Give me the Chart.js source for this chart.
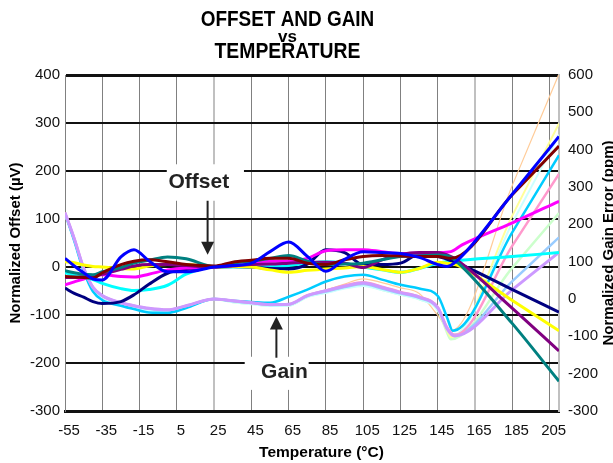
<!DOCTYPE html>
<html>
<head>
<meta charset="utf-8">
<script src="https://cdn.jsdelivr.net/npm/chart.js@4.4.1/dist/chart.umd.min.js"></script>
<style>
  html, body { margin: 0; padding: 0; background: #fff; }
</style>
</head>
<body>
<canvas id="chart" width="613" height="463"></canvas>
<script>
// Temperatures (°C) shared by every curve up to 145 °C
const TEMPS = [-55, -50, -45, -40, -35, -25, -18, -10, 0, 10, 25, 35, 45, 55, 65, 75, 85, 95, 105, 115, 125, 135, 145];
const X_TICKS = [-55, -35, -15, 5, 25, 45, 65, 85, 105, 125, 145, 165, 185, 205];

// Normalized offset (µV), one array per unit
const offNavy    = [-44, -55, -63, -72, -76, -72, -58, -36, -13, -5, 0, 1, 0, -3, -4, 6, 36, 30, 5, 5, 8, 26, 22];
const offMagenta = [-37, -31, -25, -18, -16, -20, -21, -15, -6, -2, 0, 8, 11, 12, 12, 18, 34, 36, 36, 32, 28, 29, 30];
const offYellow  = [11, 9, 4, 1, 0, -3, -4, 2, 5, 5, 0, 1, 0, -6, -11, -7, -4, -2, 1, -5, -11, -3, 10];
const offCyan    = [-12, -17, -21, -26, -34, -45, -49, -47, -38, -15, 0, 0, 0, 1, 3, 8, 11, 8, 0, -6, -11, -3, 8];
const offPurple  = [-22, -22, -20, -18, -15, -5, 2, 5, 5, 3, 0, 2, 5, 6, 8, 10, 10, 8, -1, 15, 26, 30, 30];
const offMaroon  = [-20, -21, -22, -23, -12, 5, 12, 15, 11, 5, 2, 10, 14, 18, 18, 8, 5, 15, 22, 24, 23, 22, 22];
const offTeal    = [-8, -12, -15, -16, -10, -1, 8, 14, 21, 17, 1, 8, 12, 18, 24, 12, 5, 6, 8, 15, 22, 23, 25];
const offBlue    = [18, 2, -12, -25, -27, 21, 36, 13, -10, -10, 0, 3, 8, 32, 52, 22, -9, 16, 32, 30, 28, 20, 5];

// Offset beyond 145 °C: [temp, µV]
const tailNavy    = [[153, 12], [185, -47], [210, -94]];
const tailMagenta = [[152, 32], [158, 46], [185, 92], [210, 137]];
const tailYellow  = [[150, 8], [156, 3], [185, -70], [210, -133]];
const tailCyan    = [[152, 12], [185, 22], [210, 30]];
const tailPurple  = [[150, 25], [155, 15], [185, -86], [210, -175]];
const tailMaroon  = [[152, 18], [185, 151], [210, 252]];
const tailTeal    = [[151, 22], [156, 8], [185, -118], [210, -238]];
const tailBlue    = [[150, 1], [155, 12], [185, 152], [210, 272]];

// Normalized gain error (ppm)
const gainSky      = [230, 155, 75, 20, -3, -18, -27, -36, -37, -24, 0, -5, -8, -10, 6, 25, 47, 60, 65, 52, 38, 28, 8];
const gainCyanLt   = [226, 156, 78, 26, 4, -15, -23, -30, -34, -23, 0, -9, -14, -19, -18, 5, 16, 28, 35, 24, 11, -1, -30];
const gainGreen    = [228, 158, 80, 28, 6, -13, -21, -28, -32, -21, 0, -8, -13, -18, -17, 6, 18, 30, 37, 25, 12, 0, -30];
const gainYellowLt = [229, 159, 81, 29, 7, -12, -20, -27, -31, -20, 0, -7, -12, -17, -16, 7, 19, 31, 38, 26, 13, 1, -28];
const gainBlueLt   = [230, 160, 82, 30, 8, -11, -19, -26, -30, -19, 0, -6, -11, -16, -15, 8, 20, 32, 40, 28, 15, 3, -25];
const gainPink     = [232, 162, 84, 32, 9, -10, -18, -25, -29, -18, 0, -5, -10, -15, -14, 10, 23, 36, 45, 33, 19, 6, -22];
const gainLavender = [231, 161, 83, 31, 9, -10, -18, -25, -29, -18, 0, -5, -10, -15, -14, 9, 22, 34, 43, 31, 17, 5, -24];
const gainPeach    = [231, 161, 83, 31, 9, -10, -18, -25, -29, -18, 0, -5, -10, -15, -14, 10, 24, 40, 54, 44, 30, 15, -44];

const gTailSky      = [[150, -50], [153, -85], [185, 179], [210, 385]];
const gTailCyanLt   = [[150, -82], [153, -97], [185, 204], [210, 440]];
const gTailGreen    = [[150, -90], [152, -108], [185, 84], [210, 230]];
const gTailYellowLt = [[150, -85], [152, -102], [185, 224], [210, 470]];
const gTailBlueLt   = [[150, -78], [154, -96], [185, 48], [210, 165]];
const gTailPink     = [[150, -76], [154, -96], [185, 143], [210, 335]];
const gTailLavender = [[150, -80], [154, -99], [185, 25], [210, 125]];
const gTailPeach    = [[152, -85], [185, 305], [210, 603]];

function series(values, tail) {
    return TEMPS.map((t, i) => ({ x: t, y: values[i] }))
        .concat(tail.map(([x, y]) => ({ x, y })));
}

function offsetLine(values, tail, color) {
    return { data: series(values, tail), borderColor: color, borderWidth: 3, yAxisID: 'y' };
}

function gainLine(values, tail, color, width) {
    return { data: series(values, tail), borderColor: color, borderWidth: width, yAxisID: 'y2' };
}

const FONT = 'Arial, "Liberation Sans", Helvetica, sans-serif';

// Callouts, placed in axis units (x: °C, y: left axis µV)
const callouts = [
    { text: 'Offset', x: 16.8, y: 176, box: [-0.4, 41, 138, 214], arrowX: 21.5, from: 138, to: 25.5 },
    { text: 'Gain', x: 62.7, y: -220, box: [41.4, 75.7, -256, -187], arrowX: 58.4, from: -189, to: -103 }
];

const decorations = {
    id: 'decorations',
    beforeDatasetsDraw(chart) {
        const { ctx, scales: { x, y } } = chart;
        ctx.save();
        ctx.fillStyle = '#fff';
        callouts.forEach(c => {
            const [x0, x1, y0, y1] = c.box;
            const l = x.getPixelForValue(x0), r = x.getPixelForValue(x1);
            const t = y.getPixelForValue(y1), b = y.getPixelForValue(y0);
            ctx.fillRect(l, t, r - l, b - t);
        });
        ctx.restore();
    },
    afterDraw(chart) {
        const { ctx, scales: { x, y } } = chart;
        ctx.save();
        ctx.fillStyle = '#000';
        ctx.textAlign = 'center';
        ctx.textBaseline = 'alphabetic';

        // Title, set in a condensed bold face
        const titleLine = (text, size, sx, cy) => {
            ctx.save();
            ctx.translate(287.5, cy);
            ctx.scale(sx, 1);
            ctx.font = 'bold ' + size + 'px ' + FONT;
            ctx.fillText(text, 0, 0);
            ctx.restore();
        };
        titleLine('OFFSET AND GAIN', 22, 0.86, 26);
        titleLine('vs', 17, 1, 42);
        titleLine('TEMPERATURE', 22, 0.88, 58);

        // Axis titles
        ctx.font = 'bold 15.5px ' + FONT;
        ctx.fillText('Temperature (°C)', 321.5, 457);
        ctx.textBaseline = 'middle';
        ctx.save();
        ctx.translate(16, 243);
        ctx.rotate(-Math.PI / 2);
        ctx.font = 'bold 15px ' + FONT;
        ctx.fillText('Normalized Offset (\u00B5V)', 0, 0);
        ctx.restore();
        ctx.save();
        ctx.translate(608.5, 243);
        ctx.rotate(-Math.PI / 2);
        ctx.font = 'bold 15px ' + FONT;
        ctx.fillText('Normalized Gain Error (ppm)', 0, 0);
        ctx.restore();

        // Callout labels and arrows
        ctx.fillStyle = '#222';
        ctx.strokeStyle = '#222';
        ctx.lineWidth = 2;
        callouts.forEach(c => {
            ctx.font = 'bold 21px ' + FONT;
            ctx.fillText(c.text, x.getPixelForValue(c.x), y.getPixelForValue(c.y));
            const ax = x.getPixelForValue(c.arrowX);
            const y0 = y.getPixelForValue(c.from);
            const y1 = y.getPixelForValue(c.to);
            const dir = y1 > y0 ? 1 : -1;
            ctx.beginPath();
            ctx.moveTo(ax, y0);
            ctx.lineTo(ax, y1 - dir * 12);
            ctx.stroke();
            ctx.beginPath();
            ctx.moveTo(ax, y1);
            ctx.lineTo(ax - 6.5, y1 - dir * 13);
            ctx.lineTo(ax + 6.5, y1 - dir * 13);
            ctx.closePath();
            ctx.fill();
        });
        ctx.restore();
    }
};

new Chart(document.getElementById('chart').getContext('2d'), {
    type: 'line',
    data: {
        datasets: [
            offsetLine(offBlue, tailBlue, '#0000ff'),
            offsetLine(offMaroon, tailMaroon, '#800000'),
            offsetLine(offTeal, tailTeal, '#008080'),
            offsetLine(offPurple, tailPurple, '#800080'),
            offsetLine(offMagenta, tailMagenta, '#ff00ff'),
            offsetLine(offYellow, tailYellow, '#ffff00'),
            offsetLine(offNavy, tailNavy, '#000080'),
            offsetLine(offCyan, tailCyan, '#00ffff'),
            gainLine(gainLavender, gTailLavender, '#cc99ff', 3),
            gainLine(gainPink, gTailPink, '#ff99cc', 2.5),
            gainLine(gainBlueLt, gTailBlueLt, '#99ccff', 2.5),
            gainLine(gainSky, gTailSky, '#00ccff', 2.5),
            gainLine(gainCyanLt, gTailCyanLt, '#ccffff', 2),
            gainLine(gainYellowLt, gTailYellowLt, '#ffff99', 2),
            gainLine(gainGreen, gTailGreen, '#ccffcc', 2.5),
            gainLine(gainPeach, gTailPeach, '#ffcc99', 1.2)
        ]
    },
    options: {
        responsive: false,
        animation: false,
        layout: { padding: { top: 75, right: 0, bottom: 0, left: 0 } },
        elements: {
            point: { radius: 0 },
            line: { cubicInterpolationMode: 'monotone', fill: false }
        },
        plugins: { legend: { display: false }, tooltip: { enabled: false } },
        scales: {
            x: {
                type: 'linear',
                min: -55,
                max: 210,
                afterBuildTicks: scale => { scale.ticks = X_TICKS.map(v => ({ value: v })); },
                afterFit: scale => { scale.height = 52; },
                ticks: { font: { family: FONT, size: 15 }, color: '#111', padding: 11, labelOffset: 4, maxRotation: 0, autoSkip: false },
                grid: {
                    drawTicks: false,
                    color: c => (c.tick && (c.tick.value === 25 || c.tick.value === 165)) ? '#c0c0c0' : '#808080',
                    lineWidth: c => (c.tick && (c.tick.value === 25 || c.tick.value === 165)) ? 2 : 1
                },
                border: { color: '#111', width: 3 }
            },
            y: {
                position: 'left',
                min: -300,
                max: 400,
                afterFit: scale => { scale.width = 65; },
                ticks: { stepSize: 100, font: { family: FONT, size: 15 }, color: '#111', padding: 5 },
                grid: {
                    drawTicks: false,
                    color: '#111',
                    lineWidth: c => (c.tick && c.tick.value === 400) ? 3 : 2
                },
                border: { color: '#808080', width: 1 }
            },
            y2: {
                position: 'right',
                min: -300,
                max: 600,
                afterFit: scale => { scale.width = 54; },
                ticks: { stepSize: 100, font: { family: FONT, size: 15 }, color: '#111', padding: 9 },
                grid: { display: false, drawTicks: false },
                border: { color: '#c0c0c0', width: 2 }
            }
        }
    },
    plugins: [decorations]
});
</script>
</body>
</html>
